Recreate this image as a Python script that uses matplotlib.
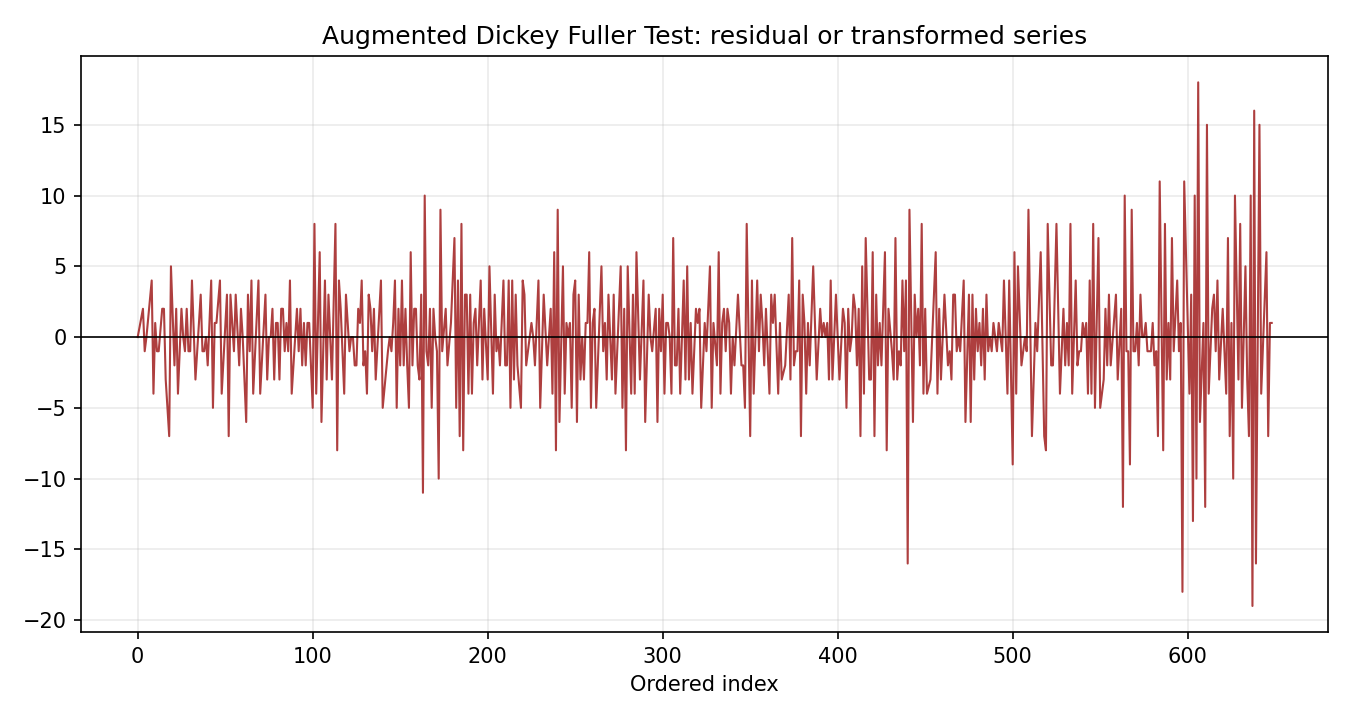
import numpy as np
import matplotlib.pyplot as plt

# turning points of the residual series (index, value)
idx = [0, 3, 4, 5, 8, 9, 10, 11, 12, 14, 15, 16, 18, 19, 21, 22, 23, 25, 26, 27, 28, 29, 30, 31, 33, 36, 37, 38, 39, 40,
       42, 43, 44, 45, 47, 48, 51, 52, 53, 55, 56, 58, 59, 60, 62, 63, 64, 65, 66, 69, 70, 73, 74, 75, 76, 77, 78, 79, 80, 81,
       82, 83, 84, 85, 86, 87, 88, 91, 92, 93, 94, 95, 96, 97, 98, 100, 101, 102, 104, 105, 107, 108, 109, 111, 113, 114, 115, 116, 118, 119,
       121, 122, 123, 124, 125, 126, 127, 128, 129, 130, 131, 132, 133, 134, 135, 136, 139, 140, 143, 144, 145, 146, 147, 148, 149, 150, 151, 152, 153, 154,
       155, 156, 157, 158, 159, 160, 161, 162, 163, 164, 165, 166, 167, 168, 169, 170, 171, 172, 173, 174, 176, 177, 179, 181, 182, 183, 184, 185, 186, 187,
       188, 189, 190, 191, 192, 193, 194, 196, 197, 198, 200, 201, 203, 204, 205, 206, 207, 209, 210, 211, 212, 213, 214, 215, 216, 217, 219, 220, 221, 222,
       225, 226, 227, 229, 230, 232, 234, 236, 237, 238, 239, 240, 241, 243, 244, 245, 246, 247, 248, 249, 250, 251, 252, 253, 254, 255, 256, 257, 258, 259,
       260, 261, 262, 265, 266, 267, 268, 269, 271, 272, 273, 276, 277, 278, 279, 280, 282, 283, 284, 285, 287, 289, 290, 292, 293, 294, 296, 297, 298, 299,
       300, 301, 302, 303, 304, 305, 306, 307, 308, 309, 310, 312, 313, 314, 315, 316, 317, 319, 320, 321, 322, 324, 325, 327, 328, 329, 331, 332, 333, 334,
       335, 336, 337, 338, 339, 340, 341, 343, 345, 346, 347, 348, 350, 351, 352, 354, 355, 356, 357, 358, 359, 361, 362, 363, 364, 366, 367, 368, 370, 372,
       373, 374, 375, 376, 377, 378, 379, 380, 381, 382, 383, 384, 386, 388, 390, 391, 392, 393, 394, 395, 396, 397, 399, 401, 403, 404, 405, 406, 407, 408,
       409, 410, 411, 412, 413, 414, 415, 416, 418, 419, 420, 421, 422, 423, 424, 425, 427, 428, 429, 431, 432, 433, 434, 435, 436, 437, 438, 439, 440, 441,
       443, 444, 445, 446, 447, 448, 449, 450, 451, 453, 456, 457, 458, 459, 461, 463, 464, 465, 466, 467, 468, 469, 470, 472, 473, 475, 476, 477, 478, 479,
       480, 481, 482, 483, 484, 485, 486, 487, 488, 489, 490, 491, 492, 494, 495, 497, 498, 500, 501, 502, 503, 505, 507, 508, 509, 511, 513, 514, 516, 518,
       519, 520, 522, 523, 525, 527, 529, 530, 531, 532, 533, 534, 536, 537, 538, 539, 540, 541, 542, 543, 544, 545, 546, 547, 549, 550, 552, 553, 554, 555,
       556, 559, 560, 562, 563, 564, 565, 566, 567, 568, 569, 570, 571, 572, 573, 574, 575, 576, 577, 578, 579, 580, 581, 582, 583, 584, 586, 587, 588, 589,
       590, 591, 592, 594, 595, 596, 597, 598, 601, 602, 603, 604, 605, 606, 607, 609, 610, 611, 612, 614, 615, 616, 617, 618, 620, 622, 623, 624, 625, 626,
       627, 629, 630, 631, 633, 634, 635, 636, 637, 638, 639, 641, 642, 645, 646, 647, 648]

resid = [0, 2, -1, 0, 4, -4, 1, -1, -1, 2, 2, -3, -7, 5, -2, 2, -4, 2, 0, -1, 2, -1, -1, 4, -3, 3, -1, -1, 0, -2,
         4, -5, 1, 1, 4, -4, 3, -7, 3, -1, 3, -2, 2, 0, -6, 3, -1, 4, -4, 4, -4, 3, -3, 0, 0, 2, -3, 1, 1, -3,
         2, 2, -1, 1, -1, 4, -4, 2, -1, 2, -2, 1, -2, 1, 1, -5, 8, -4, 6, -6, 4, -3, 3, -3, 8, -8, 4, 2, -4, 3,
         -1, 0, 0, -2, -2, 2, 1, 4, -2, -1, -4, 3, 2, -1, 2, -3, 4, -5, -1, 0, -1, 1, 4, -5, 2, -2, 4, -2, 2, -2,
         -5, 6, -2, 2, 2, -2, -3, 3, -11, 10, -1, -2, 2, -5, 2, 0, -1, -10, 9, -1, 2, -2, 1, 7, -5, 4, -7, 8, -8, 3,
         3, -4, 3, -4, 1, 2, -2, 4, -3, 2, -3, 5, -4, 3, -1, 0, -2, 4, -2, -2, 4, -5, 4, -3, 3, -2, -5, 4, 3, -2,
         1, 0, -2, 4, -5, 3, -2, 2, -4, 6, -8, 9, -6, 5, -4, 1, 0, 1, -5, 3, 4, -6, 3, -3, 0, -3, 1, 1, 6, -5,
         1, 2, -5, 5, -1, 1, -3, 3, -3, 3, -4, 5, -5, 2, -8, 5, -4, 3, -4, 6, -3, 4, -6, 3, 0, -1, 2, -6, 2, -1,
         3, -4, 1, 1, 0, -4, 7, -2, -2, 2, -4, 4, -3, 5, -3, 1, -4, 2, 1, 2, -5, 1, -1, 5, -5, 1, -2, 6, -4, 1,
         2, -1, 2, 1, -4, 0, -2, 3, -2, -2, -5, 8, -7, 4, -4, 4, -1, 3, 1, -2, 2, -4, 3, 1, 3, -4, 1, -3, -2, 3,
         -3, 7, -2, -1, -1, 4, -7, 3, 1, -4, 1, -2, 5, -3, 2, 0, 1, 0, 1, -3, 4, -3, 3, -3, 2, 1, -5, 2, -1, 0,
         3, 2, -2, 2, -7, 5, -4, 7, -3, -3, 6, -7, 3, -2, 1, -2, 6, -8, 2, -1, -3, 7, -3, -1, -2, 4, -1, 4, -16, 9,
         -6, 3, 0, 2, -2, 8, -4, 2, -4, -3, 6, -4, 2, -3, 3, -2, -1, -3, 3, 3, -1, 0, -1, 4, -6, 3, -6, 3, -3, 2,
         -1, 1, -2, 2, -3, 3, -1, 0, -1, 1, 0, -1, 1, -1, 4, -4, 4, -9, 6, -4, 5, -2, 0, -1, 9, -7, 1, -1, 6, -7,
         -8, 8, -2, -2, 8, -4, 2, -2, 1, -2, 8, -4, 4, -2, -1, -1, 1, 0, 1, -4, 4, -4, 8, -5, 7, -5, -3, 2, -2, 3,
         -2, 3, -3, 2, -12, 10, -1, -1, -9, 9, -1, -1, 1, -2, 3, 0, 0, 1, -1, -1, -1, 1, -2, -1, -7, 11, -8, 8, -3, 1,
         -3, 7, -1, 4, -1, 1, -18, 11, -4, 3, -13, 10, -10, 18, -6, 1, -12, 15, -4, 2, 3, -1, 4, -3, 2, -4, 7, -7, 1, -10,
         10, -3, 8, -5, 5, -3, -7, 10, -19, 16, -16, 15, -4, 6, -7, 1, 1]

fig, ax = plt.subplots(figsize=(9, 4.8), dpi=150)
fig.subplots_adjust(left=0.06, right=0.984, top=0.922, bottom=0.122)

ax.plot(idx, resid, color='#a52a2a', lw=1.0, alpha=0.9)
ax.axhline(0, color='black', lw=0.8)
ax.grid(True, alpha=0.25)
ax.set_title("Augmented Dickey Fuller Test: residual or transformed series")
ax.set_xlabel("Ordered index")

plt.savefig("out.png")
